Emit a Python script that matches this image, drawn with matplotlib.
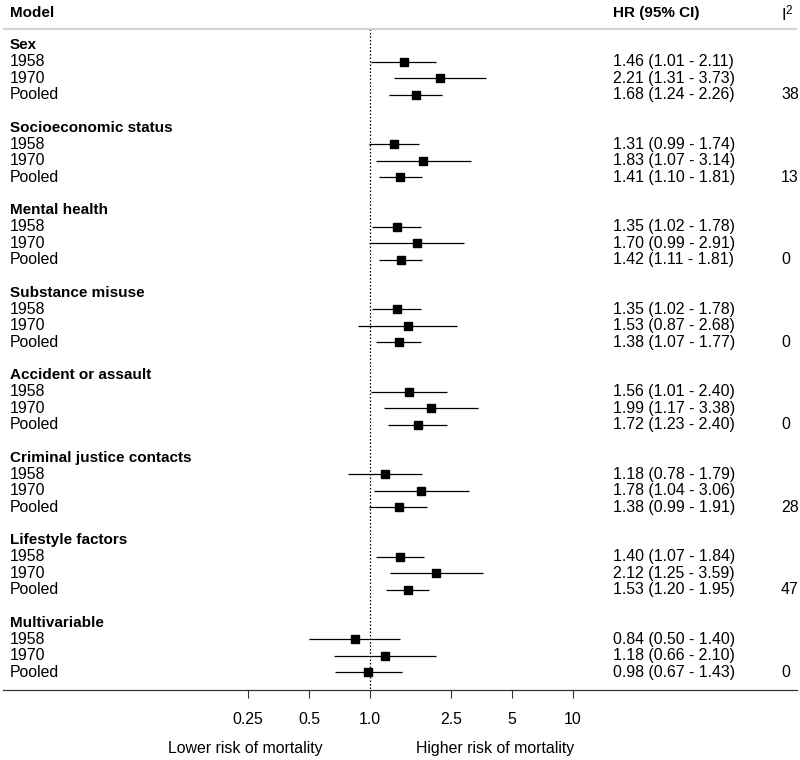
import numpy as np
import matplotlib
matplotlib.use("Agg")
import matplotlib.pyplot as plt
import matplotlib.transforms as mtransforms
from matplotlib.ticker import FixedLocator, FixedFormatter, NullLocator

plt.rcParams['font.family'] = ['Liberation Sans', 'DejaVu Sans']
plt.rcParams['mathtext.default'] = 'regular'

groups = ["Sex", "Socioeconomic status", "Mental health", "Substance misuse",
          "Accident or assault", "Criminal justice contacts", "Lifestyle factors",
          "Multivariable"]
cohorts = ["1958", "1970", "Pooled"]

hr = [[1.46, 2.21, 1.68], [1.31, 1.83, 1.41], [1.35, 1.70, 1.42], [1.35, 1.53, 1.38],
      [1.56, 1.99, 1.72], [1.18, 1.78, 1.38], [1.40, 2.12, 1.53], [0.84, 1.18, 0.98]]
lo = [[1.01, 1.31, 1.24], [0.99, 1.07, 1.10], [1.02, 0.99, 1.11], [1.02, 0.87, 1.07],
      [1.01, 1.17, 1.23], [0.78, 1.04, 0.99], [1.07, 1.25, 1.20], [0.50, 0.66, 0.67]]
hi = [[2.11, 3.73, 2.26], [1.74, 3.14, 1.81], [1.78, 2.91, 1.81], [1.78, 2.68, 1.77],
      [2.40, 3.38, 2.40], [1.79, 3.06, 1.91], [1.84, 3.59, 1.95], [1.40, 2.10, 1.43]]
i2 = ["38", "13", "0", "0", "0", "28", "47", "0"]

ticks = [0.25, 0.5, 1.0, 2.5, 5, 10]
tick_labels = ["0.25", "0.5", "1.0", "2.5", "5", "10"]

W, H = 800, 760
fig = plt.figure(figsize=(W / 100, H / 100), dpi=100)
ax = fig.add_axes([0, 0, 1, 1])
ax.set_xscale('log')

# pixel layout: x = 370.2 + 61.08*log2(v); row r at y = 45 + 16.51*r
px_per_dbl = 61.08
x_one = 370.2
ax.set_xlim(2 ** (-x_one / px_per_dbl), 2 ** ((W - x_one) / px_per_dbl))
row_h = 16.51
y0 = 45
ax.set_ylim((H - y0) / row_h, -y0 / row_h)

def px(x):
    return x / W

tr = mtransforms.blended_transform_factory(ax.transAxes, ax.transData)
fs = 11.4   # regular text
fsb = 11    # bold text

row = 0
for g, name in enumerate(groups):
    ax.text(px(10), row, name, transform=tr, fontsize=fsb, fontweight='bold',
            va='center', ha='left')
    row += 1
    for c, coh in enumerate(cohorts):
        ax.text(px(10), row, coh, transform=tr, fontsize=fs, va='center', ha='left')
        ax.plot([lo[g][c], hi[g][c]], [row, row], color='black', lw=0.9,
                solid_capstyle='butt', zorder=2)
        ax.plot(hr[g][c], row, marker='s', ms=5.5, color='black', zorder=3)
        ax.text(px(613), row, f"{hr[g][c]:.2f} ({lo[g][c]:.2f} - {hi[g][c]:.2f})",
                transform=tr, fontsize=fs, va='center', ha='left')
        if coh == "Pooled":
            ax.text(px(781), row, i2[g], transform=tr, fontsize=fs,
                    va='center', ha='left')
        row += 1
    row += 1

axis_row = (690 - y0) / row_h
head_line = (29 - y0) / row_h
head_row = (13 - y0) / row_h

# header
ax.text(px(10), head_row, "Model", transform=tr, fontsize=fsb, fontweight='bold',
        va='center', ha='left')
ax.text(px(613), head_row, "HR (95% CI)", transform=tr, fontsize=fsb,
        fontweight='bold', va='center', ha='left')
ax.text(px(781), head_row, "I$^2$", transform=tr, fontsize=12, va='center', ha='left')
ax.plot([px(3), px(797)], [head_line, head_line], transform=tr, color='#d4d4d4',
        lw=1.6, solid_capstyle='butt')

# reference line at 1
ax.plot([1, 1], [head_line, axis_row], color='black', lw=0.9, ls=(0, (1.2, 1.6)),
        zorder=1)

# bottom axis
for s in ['top', 'right', 'left']:
    ax.spines[s].set_visible(False)
ax.spines['bottom'].set_position(('data', axis_row))
ax.spines['bottom'].set_bounds(2 ** ((3 - x_one) / px_per_dbl),
                               2 ** ((797 - x_one) / px_per_dbl))
ax.spines['bottom'].set_color('#333333')
ax.spines['bottom'].set_linewidth(0.9)
ax.xaxis.set_major_locator(FixedLocator(ticks))
ax.xaxis.set_major_formatter(FixedFormatter(tick_labels))
ax.xaxis.set_minor_locator(NullLocator())
ax.tick_params(axis='x', direction='out', length=6, width=0.8, color='#333333',
               labelsize=fs, pad=10)
ax.yaxis.set_visible(False)

lab_row = (749 - y0) / row_h
ax.text(px(245), lab_row, "Lower risk of mortality", transform=tr, fontsize=fs,
        va='center', ha='center')
ax.text(px(495), lab_row, "Higher risk of mortality", transform=tr, fontsize=fs,
        va='center', ha='center')

fig.savefig("out.png", dpi=100)
